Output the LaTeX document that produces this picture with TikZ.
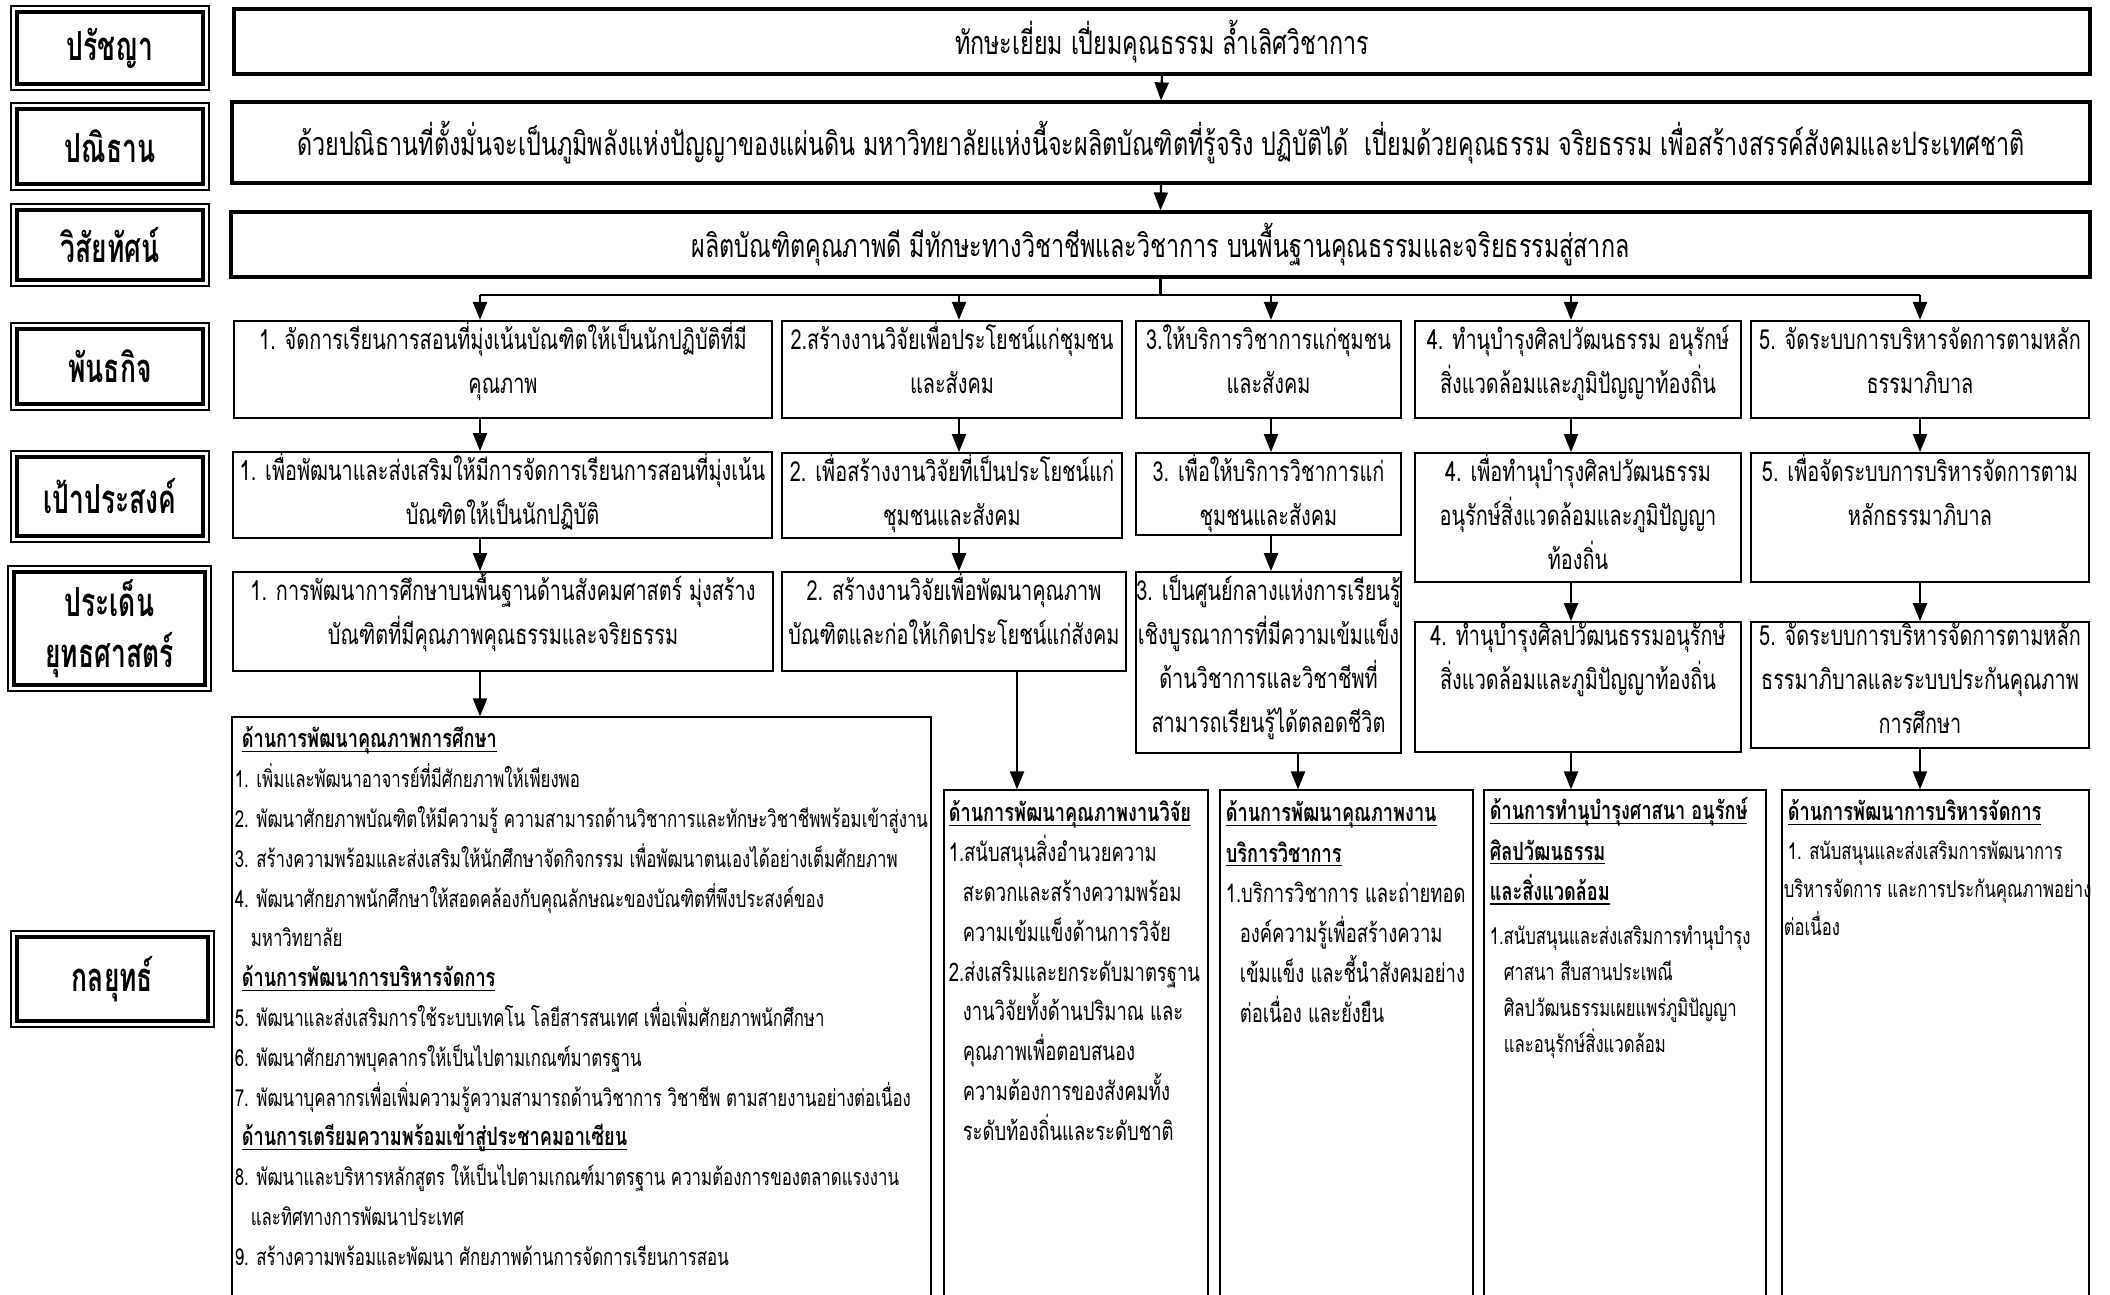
\documentclass[tikz,border=0pt]{standalone}
\usepackage{fontspec}
\setmainfont{Loma}[Script=Thai,FakeStretch=0.72]
\newfontfamily\lblf{Loma}[Script=Thai,FakeStretch=0.66]
\usetikzlibrary{arrows.meta,calc}
\newcommand\fl{\rule{0pt}{16pt}}
\newcommand\fs{\rule{0pt}{14pt}}
\newcommand\ulx[1]{\setbox0\hbox{#1}\rlap{\rule[-2.2pt]{\wd0}{0.6pt}}\box0}
\newcommand\hd[1]{\ulx{\bfseries\fontsize{12.6}{19.9}\selectfont #1}}
\newcommand\bx[6]{\node[#1, minimum width={(#5-#3)*0.5pt}, minimum height={(#6-#4)*0.5pt}] (#2) at ({(#3+#5)/2},{(#4+#6)/2})}
\tikzset{
  lbl/.style={draw, line width=1.1pt, inner sep=0, align=center,
    font=\lblf\bfseries\fontsize{20}{25.5}\selectfont,
    path picture={\draw[line width=1.7pt]
      ([xshift=3pt,yshift=-3pt]path picture bounding box.north west) rectangle
      ([xshift=-3pt,yshift=3pt]path picture bounding box.south east);}},
  topbox/.style={draw, line width=1.6pt, inner sep=0, font=\fontsize{16.2}{22}\selectfont},
  box/.style={draw, line width=0.9pt, inner sep=0},
  sbox/.style={draw, line width=0.6pt, inner sep=0},
  tx/.style={align=center, inner sep=0, anchor=north, font=\fontsize{13.8}{22}\selectfont},
  stx/.style={align=left, inner sep=0, anchor=north west, font=\fontsize{11.7}{19.9}\selectfont},
  arr/.style={-{Triangle[length=9pt,width=7pt]}, line width=1.1pt},
  ln/.style={line width=1.1pt}
}
\begin{document}
\begin{tikzpicture}[x=0.5pt,y=-0.5pt]
\useasboundingbox (0,0) rectangle (2110,1295);
\clip (0,0) rectangle (2110,1295);
\fill[white] (0,0) rectangle (2110,1295);
% left labels
\bx{lbl}{L1}{11}{6}{209}{90} {ปรัชญา};
\bx{lbl}{L2}{11}{103}{209}{190} {ปณิธาน};
\bx{lbl}{L3}{11}{204}{209}{286} {วิสัยทัศน์};
\bx{lbl}{L4}{11}{323}{209}{410} {พันธกิจ};
\bx{lbl}{L5}{11}{451}{209}{542} {เป้าประสงค์};
\bx{lbl}{L6}{8}{566}{211}{691} {ประเด็น\\ยุทธศาสตร์};
\bx{lbl}{L7}{11}{931}{214}{1027} {กลยุทธ์};
% top boxes
\bx{topbox}{P}{234}{9}{2090}{74} {ทักษะเยี่ยม เปี่ยมคุณธรรม ล้ำเลิศวิชาการ};
\bx{topbox}{D}{232}{102}{2090}{183} {ด้วยปณิธานที่ตั้งมั่นจะเป็นภูมิพลังแห่งปัญญาของแผ่นดิน มหาวิทยาลัยแห่งนี้จะผลิตบัณฑิตที่รู้จริง ปฏิบัติได้ \ เปี่ยมด้วยคุณธรรม จริยธรรม เพื่อสร้างสรรค์สังคมและประเทศชาติ};
\bx{topbox}{V}{231}{212}{2090}{277} {ผลิตบัณฑิตคุณภาพดี มีทักษะทางวิชาชีพและวิชาการ บนพื้นฐานคุณธรรมและจริยธรรมสู่สากล};
% missions
\bx{box, line width=1.1pt}{M1}{234}{321}{772}{418} {};
\bx{box, line width=1.1pt}{M2}{782}{321}{1122}{418} {};
\bx{box, line width=1.1pt}{M3}{1136}{321}{1401}{418} {};
\bx{box, line width=1.1pt}{M4}{1415}{321}{1741}{418} {};
\bx{box, line width=1.1pt}{M5}{1751}{321}{2089}{418} {};
\node[tx] (M1t) at ([yshift=1.5pt]M1.north) {\fl 1. จัดการเรียนการสอนที่มุ่งเน้นบัณฑิตให้เป็นนักปฏิบัติที่มี\\คุณภาพ};
\node[tx] (M2t) at ([yshift=1.5pt]M2.north) {\fl 2.สร้างงานวิจัยเพื่อประโยชน์แก่ชุมชน\\และสังคม};
\node[tx] (M3t) at ([yshift=1.5pt]M3.north) {\fl 3.ให้บริการวิชาการแก่ชุมชน\\และสังคม};
\node[tx] (M4t) at ([yshift=1.5pt]M4.north) {\fl 4. ทำนุบำรุงศิลปวัฒนธรรม อนุรักษ์\\สิ่งแวดล้อมและภูมิปัญญาท้องถิ่น};
\node[tx] (M5t) at ([yshift=1.5pt]M5.north) {\fl 5. จัดระบบการบริหารจัดการตามหลัก\\ธรรมาภิบาล};
% goals
\bx{box}{G1}{233}{452}{772}{538} {};
\bx{box}{G2}{782}{453}{1122}{538} {};
\bx{box}{G3}{1136}{453}{1401}{535} {};
\bx{box}{G4}{1415}{453}{1741}{582} {};
\bx{box}{G5}{1751}{453}{2089}{582} {};
\node[tx] (G1t) at ([yshift=1.5pt]G1.north) {\fl 1. เพื่อพัฒนาและส่งเสริมให้มีการจัดการเรียนการสอนที่มุ่งเน้น\\บัณฑิตให้เป็นนักปฏิบัติ};
\node[tx] (G2t) at ([yshift=1.5pt]G2.north) {\fl 2. เพื่อสร้างงานวิจัยที่เป็นประโยชน์แก่\\ชุมชนและสังคม};
\node[tx] (G3t) at ([yshift=1.5pt]G3.north) {\fl 3. เพื่อให้บริการวิชาการแก่\\ชุมชนและสังคม};
\node[tx] (G4t) at ([yshift=1.5pt]G4.north) {\fl 4. เพื่อทำนุบำรุงศิลปวัฒนธรรม\\อนุรักษ์สิ่งแวดล้อมและภูมิปัญญา\\ท้องถิ่น};
\node[tx] (G5t) at ([yshift=1.5pt]G5.north) {\fl 5. เพื่อจัดระบบการบริหารจัดการตาม\\หลักธรรมาภิบาล};
% issues
\bx{box}{I1}{233}{572}{773}{671} {};
\bx{box}{I2}{782}{572}{1126}{671} {};
\bx{box}{I3}{1136}{572}{1401}{753} {};
\bx{box}{I4}{1415}{622}{1741}{752} {};
\bx{box}{I5}{1751}{622}{2089}{748} {};
\node[tx] (I1t) at ([yshift=1.5pt]I1.north) {\fl 1. การพัฒนาการศึกษาบนพื้นฐานด้านสังคมศาสตร์ มุ่งสร้าง\\บัณฑิตที่มีคุณภาพคุณธรรมและจริยธรรม};
\node[tx] (I2t) at ([yshift=1.5pt]I2.north) {\fl 2. สร้างงานวิจัยเพื่อพัฒนาคุณภาพ\\บัณฑิตและก่อให้เกิดประโยชน์แก่สังคม};
\node[tx] (I3t) at ([yshift=1.5pt]I3.north) {\fl 3. เป็นศูนย์กลางแห่งการเรียนรู้\\เชิงบูรณาการที่มีความเข้มแข็ง\\ด้านวิชาการและวิชาชีพที่\\สามารถเรียนรู้ได้ตลอดชีวิต};
\node[tx] (I4t) at ([yshift=4pt]I4.north) {\fl 4. ทำนุบำรุงศิลปวัฒนธรรมอนุรักษ์\\สิ่งแวดล้อมและภูมิปัญญาท้องถิ่น};
\node[tx] (I5t) at ([yshift=4pt]I5.north) {\fl 5. จัดระบบการบริหารจัดการตามหลัก\\ธรรมาภิบาลและระบบประกันคุณภาพ\\การศึกษา};
% strategies
\bx{sbox}{S1}{232}{717}{931}{1320} {};
\bx{sbox}{S2}{944}{790}{1208}{1320} {};
\bx{sbox}{S3}{1220}{790}{1473}{1320} {};
\bx{sbox}{S4}{1484}{790}{1766}{1320} {};
\bx{sbox}{S5}{1782}{790}{2089}{1320} {};
\node[stx] (S1t) at ([xshift=1.5pt,yshift=-1.5pt]S1.north west) {\fs\hspace*{3.5pt}\hd{ด้านการพัฒนาคุณภาพการศึกษา}\\
1. เพิ่มและพัฒนาอาจารย์ที่มีศักยภาพให้เพียงพอ\\
2. พัฒนาศักยภาพบัณฑิตให้มีความรู้ ความสามารถด้านวิชาการและทักษะวิชาชีพพร้อมเข้าสู่งาน\\
3. สร้างความพร้อมและส่งเสริมให้นักศึกษาจัดกิจกรรม เพื่อพัฒนาตนเองได้อย่างเต็มศักยภาพ\\
4. พัฒนาศักยภาพนักศึกษาให้สอดคล้องกับคุณลักษณะของบัณฑิตที่พึงประสงค์ของ\\
\hspace*{8pt}มหาวิทยาลัย\\
\hspace*{3.5pt}\hd{ด้านการพัฒนาการบริหารจัดการ}\\
5. พัฒนาและส่งเสริมการใช้ระบบเทคโน โลยีสารสนเทศ เพื่อเพิ่มศักยภาพนักศึกษา\\
6. พัฒนาศักยภาพบุคลากรให้เป็นไปตามเกณฑ์มาตรฐาน\\
7. พัฒนาบุคลากรเพื่อเพิ่มความรู้ความสามารถด้านวิชาการ วิชาชีพ ตามสายงานอย่างต่อเนื่อง\\
\hspace*{3.5pt}\hd{ด้านการเตรียมความพร้อมเข้าสู่ประชาคมอาเซียน}\\
8. พัฒนาและบริหารหลักสูตร ให้เป็นไปตามเกณฑ์มาตรฐาน ความต้องการของตลาดแรงงาน\\
\hspace*{8pt}และทิศทางการพัฒนาประเทศ\\
9. สร้างความพร้อมและพัฒนา ศักยภาพด้านการจัดการเรียนการสอน};
\node[stx, font=\fontsize{12.8}{19.9}\selectfont] (S2t) at ([xshift=2.5pt,yshift=-2pt]S2.north west) {\fs\hd{ด้านการพัฒนาคุณภาพงานวิจัย}\\
1.สนับสนุนสิ่งอำนวยความ\\
\hspace*{7pt}สะดวกและสร้างความพร้อม\\
\hspace*{7pt}ความเข้มแข็งด้านการวิจัย\\
2.ส่งเสริมและยกระดับมาตรฐาน\\
\hspace*{7pt}งานวิจัยทั้งด้านปริมาณ และ\\
\hspace*{7pt}คุณภาพเพื่อตอบสนอง\\
\hspace*{7pt}ความต้องการของสังคมทั้ง\\
\hspace*{7pt}ระดับท้องถิ่นและระดับชาติ};
\node[stx, font=\fontsize{12.8}{20.1}\selectfont] (S3t) at ([xshift=3pt,yshift=-2pt]S3.north west) {\fs\hd{ด้านการพัฒนาคุณภาพงาน}\\
\hd{บริการวิชาการ}\\
1.บริการวิชาการ และถ่ายทอด\\
\hspace*{7pt}องค์ความรู้เพื่อสร้างความ\\
\hspace*{7pt}เข้มแข็ง และชี้นำสังคมอย่าง\\
\hspace*{7pt}ต่อเนื่อง และยั่งยืน};
\node[stx, font=\fontsize{12.6}{20.1}\selectfont] (S4t) at ([xshift=3pt,yshift=-1pt]S4.north west) {\fs\hd{ด้านการทำนุบำรุงศาสนา อนุรักษ์}\\
\hd{ศิลปวัฒนธรรม}\\
\hd{และสิ่งแวดล้อม}};
\node[stx, font=\fontsize{11.6}{18}\selectfont] (S4b) at ([xshift=3pt,yshift=-63.5pt]S4.north west) {\fs 1.สนับสนุนและส่งเสริมการทำนุบำรุง\\
\hspace*{7pt}ศาสนา สืบสานประเพณี\\
\hspace*{7pt}ศิลปวัฒนธรรมเผยแพร่ภูมิปัญญา\\
\hspace*{7pt}และอนุรักษ์สิ่งแวดล้อม};
\node[stx, font=\fontsize{12.6}{20}\selectfont] (S5t) at ([xshift=3pt,yshift=-1.5pt]S5.north west) {\fs\hd{ด้านการพัฒนาการบริหารจัดการ}};
\node[stx, font=\fontsize{11.6}{18.8}\selectfont] (S5b) at ([xshift=1pt,yshift=-21pt]S5.north west) {\fs\hspace*{2pt}1. สนับสนุนและส่งเสริมการพัฒนาการ\\
บริหารจัดการ และการประกันคุณภาพอย่าง\\
ต่อเนื่อง};
% connectors
\coordinate (c1) at (480,295);
\coordinate (c2) at (959,295);
\coordinate (c3) at (1271,295);
\coordinate (c4) at (1571,295);
\coordinate (c5) at (1920,295);
\coordinate (d2) at (1017,0);
\coordinate (d3) at (1298,0);
\draw[arr] (P.south) -- (D.north);
\draw[arr] (D.south) -- (V.north);
\draw[ln] (V.south) -- (V.south |- c1);
\draw[ln] (c1) -- (c5);
\foreach \c/\m in {c1/M1,c2/M2,c3/M3,c4/M4,c5/M5}{
  \draw[arr] (\c) -- (\c |- \m.north);}
\foreach \c/\m/\g in {c1/M1/G1,c2/M2/G2,c3/M3/G3,c4/M4/G4,c5/M5/G5}{
  \draw[arr] (\c |- \m.south) -- (\c |- \g.north);}
\foreach \c/\g/\i in {c1/G1/I1,c2/G2/I2,c3/G3/I3,c4/G4/I4,c5/G5/I5}{
  \draw[arr] (\c |- \g.south) -- (\c |- \i.north);}
\draw[arr] (c1 |- I1.south) -- (c1 |- S1.north);
\draw[arr] (d2 |- I2.south) -- (d2 |- S2.north);
\draw[arr] (d3 |- I3.south) -- (d3 |- S3.north);
\draw[arr] (c4 |- I4.south) -- (c4 |- S4.north);
\draw[arr] (c5 |- I5.south) -- (c5 |- S5.north);
\end{tikzpicture}
\end{document}
